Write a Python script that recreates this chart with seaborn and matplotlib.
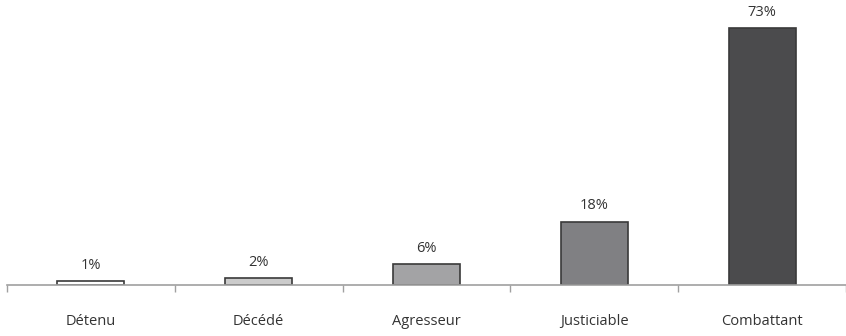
import matplotlib
matplotlib.use("Agg")
import matplotlib.pyplot as plt
import seaborn as sns
import pandas as pd

categories = ["Détenu", "Décédé", "Agresseur", "Justiciable", "Combattant"]
values = [1, 2, 6, 18, 73]
bar_colors = ["#ffffff", "#cbcbcb", "#a3a3a5", "#808083", "#4b4b4d"]

df = pd.DataFrame({"statut": categories, "pct": values})

sns.set_style("white")
plt.rcParams["font.family"] = ["Open Sans", "DejaVu Sans"]

fig = plt.figure(figsize=(8.46, 3.36), dpi=100)
ax = fig.add_axes([7 / 846, 51 / 336, 839 / 846, 285 / 336])

sns.barplot(data=df, x="statut", y="pct", hue="statut", palette=bar_colors,
            legend=False, width=0.4, edgecolor="#3a3a3a", linewidth=1.2, ax=ax)

for i, v in enumerate(values):
    ax.annotate(f"{v}%", (i, v), xytext=(0, 6), textcoords="offset points",
                ha="center", va="bottom", fontsize=10.5, color="#333333")

ax.set_xlim(-0.5, 4.5)
ax.set_ylim(0, 81)
ax.set_xlabel("")
ax.set_ylabel("")
ax.set_yticks([])
for s in ["top", "right", "left"]:
    ax.spines[s].set_visible(False)
ax.spines["bottom"].set_color("#a0a0a0")
ax.spines["bottom"].set_linewidth(1.2)

ax.tick_params(axis="x", which="major", bottom=True, length=0, pad=21,
               labelsize=10.5, labelcolor="#333333")
ax.set_xticks([i - 0.5 for i in range(len(categories) + 1)], minor=True)
ax.tick_params(axis="x", which="minor", bottom=True, length=5, width=1.0,
               color="#a0a0a0", direction="out")

fig.savefig("out.png", dpi=100)
